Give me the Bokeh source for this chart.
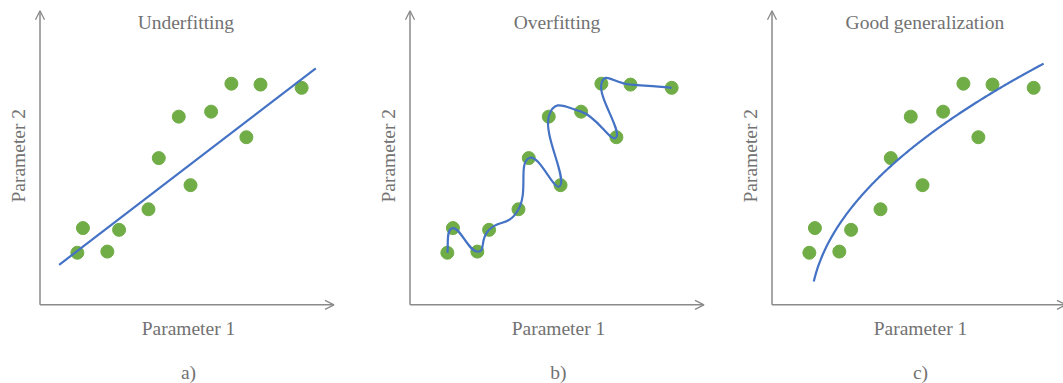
import numpy as np
from bokeh.plotting import figure
from bokeh.layouts import row
from bokeh.models import Arrow, OpenHead, Label
from bokeh.embed import file_html
from bokeh.resources import INLINE

# ---- data (axis units 0..10) ----
x_pts = [1.27, 1.46, 2.29, 2.69, 3.69, 4.04, 4.72, 5.12, 5.82, 6.51, 7.02, 7.50, 8.90]
y_pts = [1.77, 2.61, 1.81, 2.55, 3.25, 4.99, 6.40, 4.07, 6.57, 7.52, 5.70, 7.49, 7.38]

# a) linear fit
lin_slope = 0.766
lin_intercept = 0.86
lin_x = [0.65, 9.38]

# b) overfit curve: order in which the wiggly curve visits the points
over_order = [0, 1, 2, 3, 4, 5, 7, 6, 8, 10, 9, 11, 12]
over_tension = 0.25

# c) good fit: y = a + b*sqrt(x - c)
good_a, good_b, good_c = -0.25, 3.0, 1.3
good_x = [1.42, 9.24]

titles = ["Underfitting", "Overfitting", "Good generalization"]
title_x = [4.96, 5.0, 5.2]
panel_tags = ["a)", "b)", "c)"]
xlabel = "Parameter 1"
ylabel = "Parameter 2"

# ---- styling ----
GREEN = "#70AD47"
BLUE = "#4472C4"
AXIS = "#8a8a8a"
TEXT = "#727272"
FONT = "Liberation Serif"
FSIZE = "19.5px"
SCALE = 29.4          # px per unit
ORIGIN_X = 39.5       # px from left edge of each panel
ORIGIN_Y = 304.3      # px from top
H = 383
widths = [370, 362, 331]


def make_panel(i, w):
    x0 = -ORIGIN_X / SCALE
    x1 = (w - ORIGIN_X) / SCALE
    y0 = -(H - ORIGIN_Y) / SCALE
    y1 = ORIGIN_Y / SCALE
    p = figure(width=w, height=H, x_range=(x0, x1), y_range=(y0, y1),
               output_backend="svg", toolbar_location=None, min_border=0,
               x_axis_location=None, y_axis_location=None)
    p.grid.visible = False
    p.outline_line_color = None
    p.background_fill_color = "white"
    p.border_fill_color = "white"

    for xe, ye in [(10.0, 0.0), (0.0, 10.0)]:
        p.add_layout(Arrow(end=OpenHead(size=9, line_color=AXIS, line_width=1.3),
                           x_start=0, y_start=0, x_end=xe, y_end=ye,
                           line_color=AXIS, line_width=1.5))

    p.add_layout(Label(x=title_x[i], y=9.61, text=titles[i], text_align="center",
                       text_baseline="middle", text_font=FONT, text_font_size=FSIZE,
                       text_color=TEXT))
    p.add_layout(Label(x=5.05, y=-0.81, text=xlabel, text_align="center",
                       text_baseline="middle", text_font=FONT, text_font_size=FSIZE,
                       text_color=TEXT))
    p.add_layout(Label(x=5.05, y=-2.30, text=panel_tags[i], text_align="center",
                       text_baseline="middle", text_font=FONT, text_font_size=FSIZE,
                       text_color=TEXT))
    p.add_layout(Label(x=-0.72, y=5.07, text=ylabel, text_align="center",
                       text_baseline="middle", text_font=FONT, text_font_size=FSIZE,
                       text_color=TEXT, angle=np.pi / 2))

    p.scatter(x_pts, y_pts, size=13, fill_color=GREEN, line_color=GREEN)
    return p


pa = make_panel(0, widths[0])
lx = np.array(lin_x)
pa.line(lx, lin_slope * lx + lin_intercept, line_color=BLUE, line_width=2.2)

pb = make_panel(1, widths[1])
px = np.array([x_pts[k] for k in over_order])
py = np.array([y_pts[k] for k in over_order])
n = len(px)
pxe = np.concatenate([[px[0]], px, [px[-1]]])
pye = np.concatenate([[py[0]], py, [py[-1]]])
cx0 = px[:-1] + (pxe[2:n + 1] - pxe[0:n - 1]) * over_tension
cy0 = py[:-1] + (pye[2:n + 1] - pye[0:n - 1]) * over_tension
cx1 = px[1:] - (pxe[3:n + 2] - pxe[1:n]) * over_tension
cy1 = py[1:] - (pye[3:n + 2] - pye[1:n]) * over_tension
pb.bezier(x0=px[:-1], y0=py[:-1], x1=px[1:], y1=py[1:],
          cx0=cx0, cy0=cy0, cx1=cx1, cy1=cy1, line_color=BLUE, line_width=2.2)

pc = make_panel(2, widths[2])
gx = np.linspace(good_x[0], good_x[1], 200)
pc.line(gx, good_a + good_b * np.sqrt(gx - good_c), line_color=BLUE, line_width=2.2)

layout = row(pa, pb, pc, spacing=0)
open("out.html", "w").write(file_html(layout, INLINE))
